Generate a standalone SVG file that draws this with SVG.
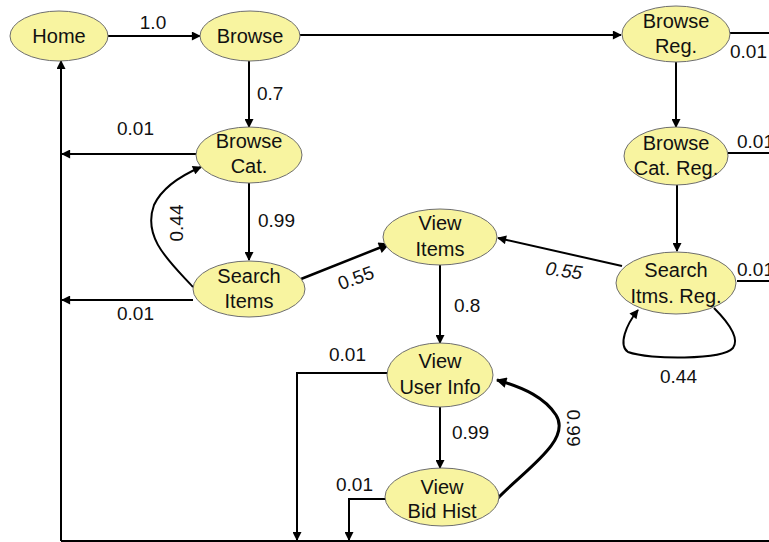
<svg xmlns="http://www.w3.org/2000/svg" width="769" height="542" viewBox="0 0 769 542">
  <style>
    .node ellipse { fill: #F8F4A0; stroke: #6e6e6e; stroke-width: 1; }
    .node text { font-family: "Liberation Sans", Arial, sans-serif; font-size: 20px; fill: #111; text-anchor: middle; }
    .edge { fill: none; stroke: #000; stroke-width: 2; }
    .arr { marker-end: url(#ah); }
    .arr3 { marker-end: url(#ah3); }
    .lbl { font-family: "Liberation Sans", Arial, sans-serif; font-size: 19px; fill: #111; }
  </style>
  <defs>
    <marker id="ah" viewBox="0 0 10 10" refX="9" refY="5" markerWidth="5" markerHeight="4.5" orient="auto" markerUnits="strokeWidth">
      <path d="M0,0 L10,5 L0,10 z" fill="#000"/>
    </marker>
    <marker id="ah3" viewBox="0 0 10 10" refX="9" refY="5" markerWidth="4" markerHeight="3.5" orient="auto" markerUnits="strokeWidth">
      <path d="M0,0 L10,5 L0,10 z" fill="#000"/>
    </marker>
  </defs>
  <rect width="769" height="542" fill="#fff"/>

  <!-- connectors -->
  <g id="connectors">
    <!-- return bus to Home -->
    <path class="edge" d="M61,541 H769"/>
    <path class="edge arr" d="M61,541 V61"/>
    <path class="edge arr" d="M108,36 H200"/>
    <path class="edge arr" d="M300,35 H621"/>
    <path class="edge arr" d="M249,60 V127"/>
    <path class="edge arr" d="M196,154 H62"/>
    <path class="edge arr" d="M249,183 V260"/>
    <path class="edge arr" d="M193,300 H62"/>
    <path class="edge arr" d="M193,287 C170,262 142,238 154,205 C162,188 180,176 201,167"/>
    <path class="edge arr" style="stroke-width:2.5" d="M301,279 L389,244"/>
    <path class="edge arr" d="M622,266 L498,238"/>
    <path class="edge arr" d="M676,62 V127"/>
    <path class="edge arr" d="M677,185 V251"/>
    <path class="edge" d="M730,33 H769"/>
    <path class="edge" d="M728,153 H769"/>
    <path class="edge" d="M737,281 H769"/>
    <path class="edge arr" d="M714,308 C728,322 740,338 733,348 C722,360 650,360 628,352 C618,345 626,325 638,310"/>
    <path class="edge arr" d="M440,265 V343"/>
    <path class="edge arr" d="M388,373 H297 V540"/>
    <path class="edge arr" d="M440,407 V468"/>
    <path class="edge arr" d="M385,499 H349 V540"/>
    <path class="edge arr3" style="stroke-width:3" d="M498,498 C525,470 572,440 556,415 C545,398 525,388 497,380"/>

    <text class="lbl" x="153" y="29" text-anchor="middle">1.0</text>
    <text class="lbl" x="257" y="100">0.7</text>
    <text class="lbl" x="117" y="135">0.01</text>
    <text class="lbl" x="258" y="227">0.99</text>
    <text class="lbl" x="0" y="0" text-anchor="middle" transform="translate(183,223) rotate(-90)">0.44</text>
    <text class="lbl" x="117" y="320">0.01</text>
    <text class="lbl" x="0" y="0" text-anchor="middle" transform="translate(358,284) rotate(-20)">0.55</text>
    <text class="lbl" x="0" y="0" text-anchor="middle" font-style="italic" transform="translate(563,277) rotate(8)">0.55</text>
    <text class="lbl" x="730" y="58">0.01</text>
    <text class="lbl" x="737" y="148">0.01</text>
    <text class="lbl" x="737" y="276">0.01</text>
    <text class="lbl" x="454" y="312">0.8</text>
    <text class="lbl" x="660" y="383">0.44</text>
    <text class="lbl" x="329" y="361">0.01</text>
    <text class="lbl" x="452" y="439">0.99</text>
    <text class="lbl" x="336" y="491">0.01</text>
    <text class="lbl" x="0" y="0" text-anchor="middle" transform="translate(567,428) rotate(90)">0.99</text>
  </g>

  <g id="home" class="node">
    <ellipse cx="59" cy="36" rx="49" ry="25"/>
    <text x="59" y="43">Home</text>
  </g>
  <g id="browse" class="node">
    <ellipse cx="250" cy="36" rx="50" ry="25"/>
    <text x="250" y="43">Browse</text>
  </g>
  <g id="browse-cat" class="node">
    <ellipse cx="249" cy="155" rx="53" ry="28"/>
    <text x="249" y="148">Browse</text>
    <text x="249" y="173">Cat.</text>
  </g>
  <g id="search-items" class="node">
    <ellipse cx="249" cy="289" rx="56" ry="28"/>
    <text x="249" y="283">Search</text>
    <text x="249" y="308">Items</text>
  </g>
  <g id="view-items" class="node">
    <ellipse cx="440" cy="237" rx="57" ry="28"/>
    <text x="440" y="230">View</text>
    <text x="440" y="256">Items</text>
  </g>
  <g id="browse-reg" class="node">
    <ellipse cx="676" cy="34" rx="54" ry="28"/>
    <text x="676" y="28">Browse</text>
    <text x="676" y="53">Reg.</text>
  </g>
  <g id="browse-cat-reg" class="node">
    <ellipse cx="676" cy="156" rx="52" ry="29"/>
    <text x="676" y="150">Browse</text>
    <text x="676" y="175">Cat. Reg.</text>
  </g>
  <g id="search-itms-reg" class="node">
    <ellipse cx="676" cy="283" rx="60" ry="31"/>
    <text x="676" y="277">Search</text>
    <text x="676" y="303">Itms. Reg.</text>
  </g>
  <g id="view-user-info" class="node">
    <ellipse cx="440" cy="375" rx="53" ry="32"/>
    <text x="440" y="368">View</text>
    <text x="440" y="394">User Info</text>
  </g>
  <g id="view-bid-hist" class="node">
    <ellipse cx="442" cy="497" rx="57" ry="29"/>
    <text x="442" y="494">View</text>
    <text x="442" y="518">Bid Hist</text>
  </g>
</svg>
